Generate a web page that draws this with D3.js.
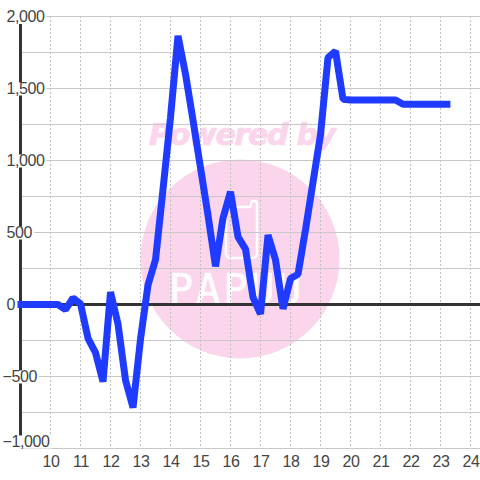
<!DOCTYPE html>
<html><head><meta charset="utf-8">
<script src="https://cdn.jsdelivr.net/npm/d3@7/dist/d3.min.js"></script>
<style>html,body{margin:0;padding:0;background:#fff}svg{display:block}</style></head>
<body><svg id="c" width="480" height="480"></svg>
<script>
const hours=[8.9,9.25,9.5,9.75,10,10.25,10.5,10.75,11,11.25,11.5,11.75,12,12.25,12.5,12.75,13,13.25,13.5,13.75,14,14.25,14.5,14.75,15,15.25,15.5,15.75,16,16.25,16.5,16.75,17,17.25,17.5,17.75,18,18.25,18.5,18.75,19,19.25,19.5,19.75,20,20.25,20.5,20.75,21,21.25,21.5,21.75,22,22.25,22.5,22.75,23,23.33];
const values=[0,0,0,0,0,0,-35,45,5,-235,-335,-536,87,-135,-525,-716,-240,135,310,800,1300,1865,1600,1280,950,620,265,600,783,470,385,50,-66,482,310,-30,180,210,520,850,1180,1715,1760,1425,1420,1420,1420,1420,1420,1420,1420,1390,1390,1390,1390,1390,1390,1390];
const xTicks=[10,11,12,13,14,15,16,17,18,19,20,21,22,23,24];
const yLabelled=[2000,1500,1000,500,0,-500,-1000];
const yGrid=[2000,1750,1500,1250,1000,750,500,250,0,-250,-500,-750,-1000];
const watermarkTop="Powered by";
const watermarkBottom="PAPUU";

const svg=d3.select("#c");
const x=d3.scaleLinear().domain([9,24.333]).range([20.5,480.5]);
const y=d3.scaleLinear().domain([2000,-1000]).range([16.5,448.5]);
const font="'Liberation Sans',Arial,sans-serif";
const pink="#fbd5ec";

// watermark
svg.append("circle").attr("cx",240).attr("cy",259).attr("r",99.5).attr("fill",pink);
svg.append("text").attr("x",242).attr("y",145).attr("text-anchor","middle")
  .attr("font-family","'DejaVu Sans',sans-serif").attr("font-weight","bold").attr("font-style","italic")
  .attr("font-size",30).attr("letter-spacing",-1.3).attr("fill",pink).attr("stroke",pink).attr("stroke-width",0.7).text(watermarkTop);
svg.append("text").attr("x",169).attr("y",303).attr("text-anchor","start")
  .attr("font-family","'DejaVu Sans Mono',monospace").attr("font-size",40).attr("letter-spacing",3)
  .attr("fill","#fff").attr("stroke","#fff").attr("stroke-width",0.6).attr("opacity",.95).text(watermarkBottom);
svg.append("path").attr("d","M226,212Q226,207 231,207L249,207Q251,207 251,204Q251,201 254,201Q257,201 257,204L257,253Q257,258 252,258L231,258Q226,258 226,253Z")
  .attr("fill","none").attr("stroke","#fff").attr("stroke-width",2.5);

// grid
svg.append("g").selectAll("line").data(xTicks).join("line")
  .attr("x1",d=>x(d)).attr("x2",d=>x(d)).attr("y1",16).attr("y2",448)
  .attr("stroke","#c0c0c0").attr("stroke-width",1).attr("stroke-dasharray","2,2");
svg.append("g").selectAll("line").data(yGrid).join("line")
  .attr("x1",20).attr("x2",480).attr("y1",d=>y(d)).attr("y2",d=>y(d))
  .attr("stroke","#c8c8c8").attr("stroke-width",1.2);

// axes
svg.append("line").attr("x1",x(9)).attr("x2",x(9)).attr("y1",24).attr("y2",436).attr("stroke","#333").attr("stroke-width",3);
svg.append("line").attr("x1",20).attr("x2",480).attr("y1",y(0)).attr("y2",y(0)).attr("stroke","#333").attr("stroke-width",3);

// y labels with white backing
const yl=svg.append("g").attr("font-family",font).attr("font-size",16).attr("letter-spacing",-0.4).attr("fill","#444");
yLabelled.forEach(v=>{
  const base=Math.min(y(v)+5.5,447);
  const t=yl.append("text").attr("x",v<0?2.5:6.5).attr("y",base).text(d3.format(",")(v));
  const b=t.node().getBBox();
  yl.insert("rect","text").attr("x",b.x-1).attr("y",base-11.5).attr("width",b.width+2.5).attr("height",13).attr("fill","#fff");
});
// x labels
svg.append("g").attr("font-family",font).attr("font-size",16).attr("letter-spacing",-0.4).attr("fill","#444").attr("text-anchor","middle")
  .selectAll("text").data(xTicks).join("text").attr("x",d=>x(d)+0.5).attr("y",467).text(d=>d);

// series
const line=d3.line().x((d,i)=>x(hours[i])).y(d=>y(d));
svg.append("path").datum(values).attr("d",line).attr("fill","none").attr("stroke","#1f3bff")
  .attr("stroke-width",7).attr("stroke-linejoin","bevel");
</script></body></html>
